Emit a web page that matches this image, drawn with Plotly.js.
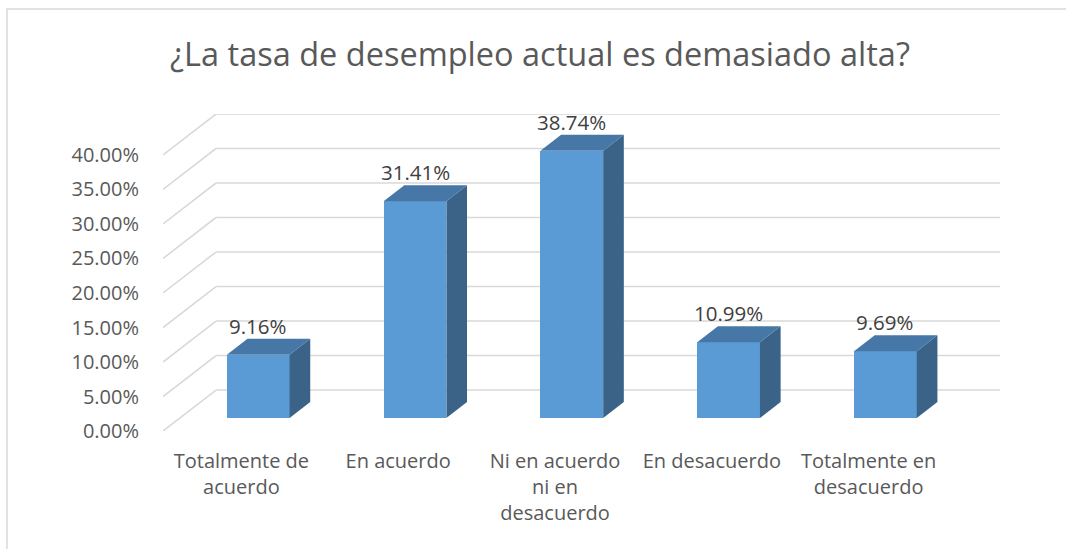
<!DOCTYPE html>
<html>
<head>
<meta charset="utf-8">
<script src="https://cdn.plot.ly/plotly-3.0.1.min.js"></script>
<style>
  html, body { margin: 0; padding: 0; background: #ffffff; }
  #chart { width: 1066px; height: 549px; }
</style>
</head>
<body>
<div id="chart"></div>
<script>
// ---- data ----
const categories = ["Totalmente de acuerdo", "En acuerdo", "Ni en acuerdo ni en desacuerdo", "En desacuerdo", "Totalmente en desacuerdo"];
const categoryLabels = ["Totalmente de<br>acuerdo", "En acuerdo", "Ni en acuerdo<br>ni en<br>desacuerdo", "En desacuerdo", "Totalmente en<br>desacuerdo"];
const values = [9.16, 31.41, 38.74, 10.99, 9.69];
const yTicks = [0, 5, 10, 15, 20, 25, 30, 35, 40];
const titleText = "¿La tasa de desempleo actual es demasiado alta?";

// ---- 3D projection settings (styling) ----
const depthX = 0.338;   // x shift (category units) for full floor depth
const depthY = 5.94;    // y shift (percent units) for full floor depth
const d0 = 0.317, d1 = 0.707; // bar front/back depth fractions
const halfW = 0.2;      // half bar width (category units)
const xMin = -0.5, xMax = categories.length - 0.5 + depthX;
const yMax = yTicks[yTicks.length - 1] + depthY;

const gridColor = "#d9d9d9";
const frontColor = "#5b9bd5";
const topColor = "#4677a6";
const sideColor = "#3b6388";

const traces = [];

// Back wall gridlines + side wall diagonals (drawn below all traces)
const gridShapes = [];
yTicks.forEach(v => {
  gridShapes.push({type: "line", xref: "x", yref: "y", layer: "below",
    x0: xMin, y0: v, x1: xMin + depthX, y1: v + depthY, line: {color: gridColor, width: 1.6}});
  gridShapes.push({type: "line", xref: "x", yref: "y", layer: "below",
    x0: xMin + depthX, y0: v + depthY, x1: xMax, y1: v + depthY, line: {color: gridColor, width: 1.6}});
});

// Bars
const ddx = depthX * (d1 - d0), ddy = depthY * (d1 - d0);
const base = depthY * d0;
const xc = values.map((v, i) => i + depthX * d0);

values.forEach((v, i) => {
  const c = xc[i];
  // side face
  traces.push({type: "scatter", mode: "lines", fill: "toself", fillcolor: sideColor,
    x: [c + halfW, c + halfW, c + halfW + ddx, c + halfW + ddx, c + halfW],
    y: [base, base + v, base + v + ddy, base + ddy, base],
    line: {width: 0, color: sideColor}, hoverinfo: "skip", showlegend: false});
  // top face
  traces.push({type: "scatter", mode: "lines", fill: "toself", fillcolor: topColor,
    x: [c - halfW, c + halfW, c + halfW + ddx, c - halfW + ddx, c - halfW],
    y: [base + v, base + v, base + v + ddy, base + v + ddy, base + v],
    line: {width: 0, color: topColor}, hoverinfo: "skip", showlegend: false});
});

// front faces
traces.push({type: "bar", x: xc, y: values, base: values.map(() => base), width: values.map(() => 2 * halfW),
  marker: {color: frontColor, line: {width: 0}}, hoverinfo: "skip", showlegend: false});

const annotations = values.map((v, i) => ({
  x: xc[i], y: base + v + ddy, xref: "x", yref: "y", yshift: -3,
  text: v.toFixed(2) + "%", showarrow: false, yanchor: "bottom", xanchor: "center",
  font: {family: "Open Sans", size: 20.5, color: "#404040"}
}));

const W = 1066, H = 549;
const mL = 163, mR = 66, mT = 114, mB = 118;
const pw = W - mL - mR, ph = H - mT - mB;

const layout = {
  width: W, height: H,
  margin: {l: mL, r: mR, t: mT, b: mB, pad: 0},
  paper_bgcolor: "#ffffff", plot_bgcolor: "rgba(0,0,0,0)",
  font: {family: "Open Sans", color: "#595959"},
  title: {text: titleText, font: {family: "Open Sans", size: 32.5, color: "#595959"},
    xref: "container", yref: "container", x: 540 / W, xanchor: "center", y: 1 - 55 / H, yanchor: "middle"},
  xaxis: {range: [xMin, xMax], showgrid: false, zeroline: false, showline: false,
    tickmode: "array", tickvals: categories.map((c, i) => i), ticktext: categoryLabels,
    ticks: "outside", ticklen: 12, tickcolor: "rgba(0,0,0,0)",
    tickfont: {family: "Open Sans", size: 20, color: "#595959"}, fixedrange: true},
  yaxis: {range: [0, yMax], showgrid: false, zeroline: false, showline: false,
    tickmode: "array", tickvals: yTicks, ticktext: yTicks.map(v => v.toFixed(2) + "%"),
    ticks: "outside", ticklen: 19, tickcolor: "rgba(0,0,0,0)",
    tickfont: {family: "Open Sans", size: 20, color: "#595959"}, fixedrange: true},
  annotations: annotations,
  shapes: gridShapes.concat([{type: "rect", xref: "paper", yref: "paper",
    x0: (7 - mL) / pw, x1: (1075 - mL) / pw, y0: (H - 560 - mB) / ph, y1: (H - 9 - mB) / ph,
    line: {color: "#d9d9d9", width: 1.5}, fillcolor: "rgba(0,0,0,0)", layer: "below"}]),
  hovermode: false, showlegend: false, bargap: 0
};

Plotly.newPlot("chart", traces, layout, {staticPlot: true, displayModeBar: false});
</script>
</body>
</html>
